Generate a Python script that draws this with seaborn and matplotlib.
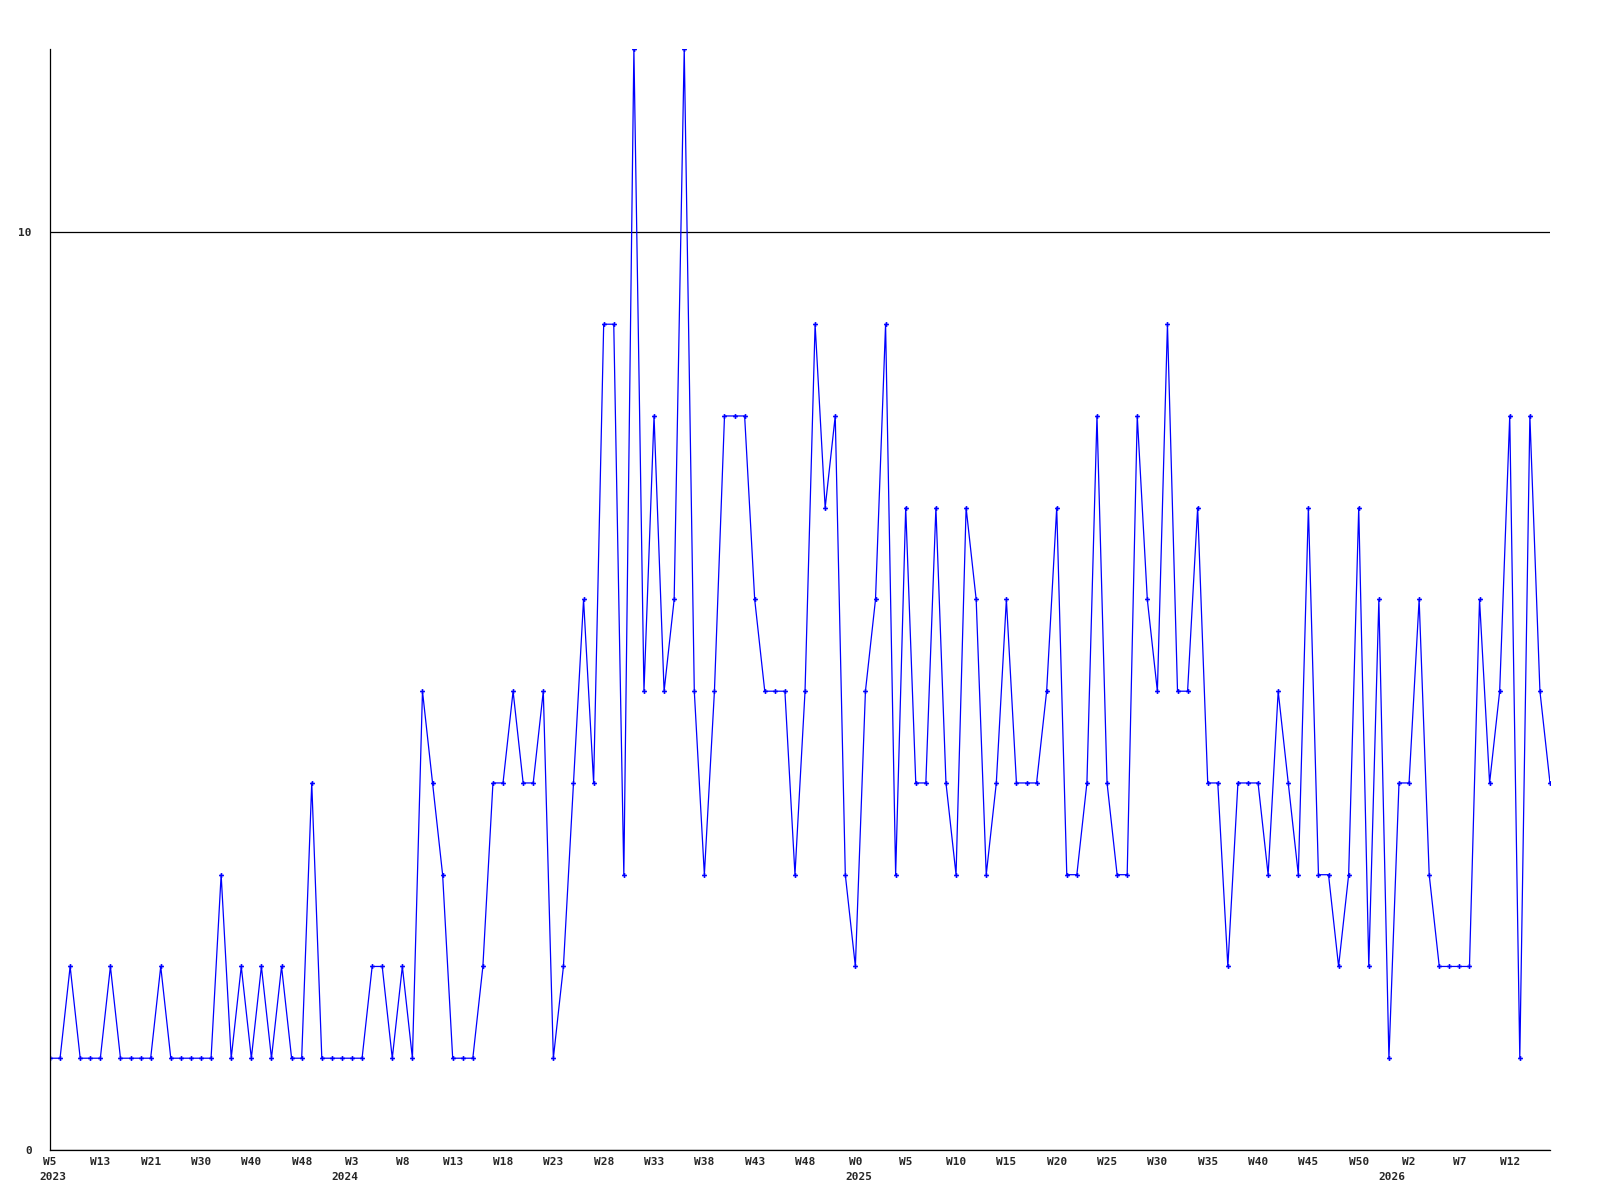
import numpy as np
import pandas as pd
import matplotlib
matplotlib.use("Agg")
import matplotlib.pyplot as plt
import matplotlib.transforms as mtransforms
import seaborn as sns

# weekly counts
valores = [
    1, 1, 2, 1, 1, 1, 2, 1, 1, 1,
    1, 2, 1, 1, 1, 1, 1, 3, 1, 2,
    1, 2, 1, 2, 1, 1, 4, 1, 1, 1,
    1, 1, 2, 2, 1, 2, 1, 5, 4, 3,
    1, 1, 1, 2, 4, 4, 5, 4, 4, 5,
    1, 2, 4, 6, 4, 9, 9, 3, 12, 5,
    8, 5, 6, 12, 5, 3, 5, 8, 8, 8,
    6, 5, 5, 5, 3, 5, 9, 7, 8, 3,
    2, 5, 6, 9, 3, 7, 4, 4, 7, 4,
    3, 7, 6, 3, 4, 6, 4, 4, 4, 5,
    7, 3, 3, 4, 8, 4, 3, 3, 8, 6,
    5, 9, 5, 5, 7, 4, 4, 2, 4, 4,
    4, 3, 5, 4, 3, 7, 3, 3, 2, 3,
    7, 2, 6, 1, 4, 4, 6, 3, 2, 2,
    2, 2, 6, 4, 5, 8, 1, 8, 5, 4,
]

# one label every 5 points
semanas = ["W5", "W13", "W21", "W30", "W40", "W48",
           "W3", "W8", "W13", "W18", "W23", "W28", "W33", "W38", "W43", "W48",
           "W0", "W5", "W10", "W15", "W20", "W25", "W30", "W35", "W40", "W45", "W50",
           "W2", "W7", "W12"]
anios = ["2023", "2024", "2025", "2026"]
pos_anios = [0.3, 29.3, 80.3, 133.3]

datos = pd.DataFrame({"idx": np.arange(len(valores)), "n": valores})

sns.set_style("white")
fig = plt.figure(figsize=(16, 12), dpi=100)
ax = fig.add_axes([0.03125, 0.0417, 0.9375, 0.9175])

sns.lineplot(data=datos, x="idx", y="n", ax=ax, color="#0000ff", linewidth=0.9,
             marker="P", markersize=3.5, markeredgewidth=0, markerfacecolor="#0000ff")

ax.set_xlim(0, len(valores) - 1)
ax.set_ylim(0, 12)

fuente = dict(fontfamily="DejaVu Sans Mono", fontweight="bold", fontsize=8)

ax.set_yticks([0, 10])
ax.set_yticklabels(["0", "10"], **fuente)
ax.yaxis.grid(True, color="black", linewidth=0.9)

ax.set_xticks(np.arange(0, len(semanas) * 5, 5))
ax.set_xticklabels(semanas, **fuente)
ax.tick_params(axis="both", length=0)
ax.tick_params(axis="y", pad=13)
ax.tick_params(axis="x", pad=5)

trans = mtransforms.blended_transform_factory(ax.transData, ax.transAxes)
for anio, x in zip(anios, pos_anios):
    ax.text(x, -0.0245, anio, transform=trans, ha="center", va="center", **fuente)

ax.set_xlabel("")
ax.set_ylabel("")
for lado in ["top", "right"]:
    ax.spines[lado].set_visible(False)
for lado in ["left", "bottom"]:
    ax.spines[lado].set_color("black")
    ax.spines[lado].set_linewidth(0.9)

fig.savefig("out.png", dpi=100, facecolor="white")
